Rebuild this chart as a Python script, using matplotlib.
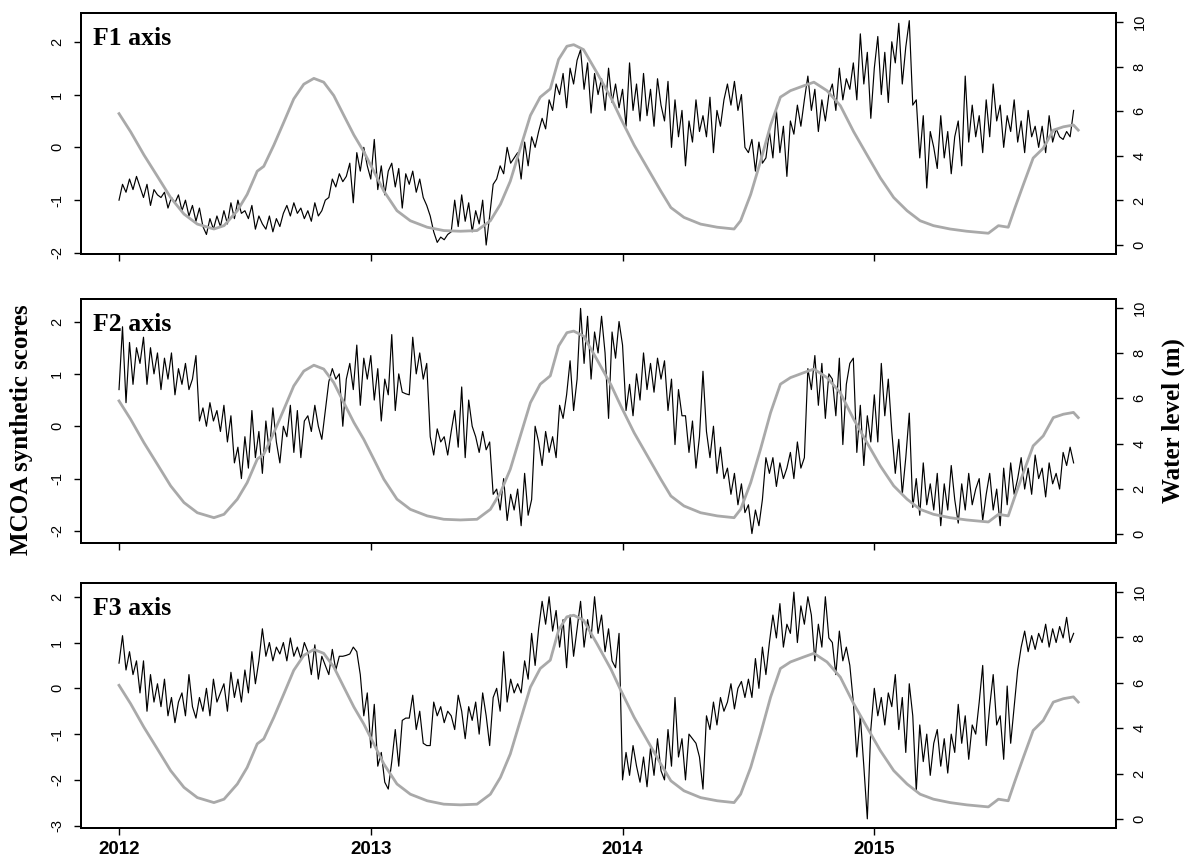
import numpy as np
import matplotlib
matplotlib.use("Agg")
import matplotlib.pyplot as plt

plt.rcParams['axes.unicode_minus'] = False

# time axis: years since 1 Jan 2012, six readings per month
samples_per_year = 72
year_labels = ['2012', '2013', '2014', '2015']

# MCOA synthetic scores, one row per month (Jan 2012 .. Oct 2015)
f1 = [
    # 2012
    -1.0, -0.7, -0.85, -0.6, -0.8, -0.55,
    -0.75, -0.95, -0.7, -1.1, -0.8, -0.9,
    -0.95, -0.85, -1.15, -0.95, -1.05, -0.9,
    -1.2, -1.0, -1.3, -1.1, -1.4, -1.15,
    -1.5, -1.65, -1.35, -1.55, -1.3, -1.5,
    -1.2, -1.45, -1.05, -1.35, -1.0, -1.25,
    -1.2, -1.35, -1.1, -1.55, -1.3, -1.45,
    -1.55, -1.3, -1.6, -1.35, -1.5, -1.25,
    -1.1, -1.3, -1.05, -1.25, -1.15, -1.35,
    -1.2, -1.4, -1.05, -1.3, -1.2, -1.0,
    -0.95, -0.6, -0.75, -0.5, -0.65, -0.55,
    -0.3, -1.05, -0.1, -0.45, 0.0, -0.35,
    # 2013
    -0.6, 0.15, -0.8, -0.35, -0.9, -0.45,
    -0.3, -0.75, -0.4, -1.15, -0.5, -0.7,
    -0.45, -0.85, -0.6, -0.95, -1.1, -1.3,
    -1.6, -1.8, -1.7, -1.75, -1.65, -1.6,
    -1.0, -1.5, -0.9, -1.4, -1.05, -1.6,
    -1.2, -1.45, -1.0, -1.85, -1.3, -0.7,
    -0.6, -0.35, -0.5, 0.0, -0.3, -0.2,
    -0.1, -0.6, 0.1, -0.35, 0.2, 0.0,
    0.3, 0.55, 0.35, 0.9, 0.7, 1.2,
    1.0, 1.4, 0.75, 1.5, 1.2, 1.65,
    1.85, 1.1, 1.6, 0.65, 1.4, 1.0,
    1.3, 0.7, 1.5, 0.85, 1.2, 0.75,
    # 2014
    1.1, 0.4, 1.6, 0.7, 1.2, 0.5,
    1.4, 0.6, 1.1, 0.4, 1.3, 0.8,
    0.5, 1.25, 0.0, 0.9, 0.2, 0.7,
    -0.35, 0.5, 0.1, 0.9, 0.3, 0.6,
    0.2, 0.95, -0.1, 0.7, 0.4, 0.9,
    1.2, 0.8, 1.25, 0.7, 1.0, 0.0,
    -0.1, 0.15, -0.45, 0.1, -0.3, -0.2,
    0.3, -0.2, 0.7, -0.1, 0.4, -0.55,
    0.5, 0.25, 0.8, 0.4, 0.9, 1.35,
    0.7, 1.1, 0.3, 0.9, 0.5, 1.0,
    1.2, 0.7, 1.5, 0.9, 1.3, 1.1,
    1.6, 0.9, 2.15, 1.2, 1.8, 0.55,
    # 2015
    1.5, 2.1, 1.0, 1.8, 0.85, 2.0,
    1.6, 2.35, 1.2, 1.9, 2.4, 0.8,
    0.9, -0.2, 0.6, -0.77, 0.3, 0.0,
    -0.4, 0.6, -0.2, 0.3, -0.5, 0.2,
    0.5, -0.35, 1.35, 0.1, 0.8, 0.2,
    0.6, -0.1, 0.9, 0.2, 1.2, 0.5,
    0.8, 0.0, 0.6, 0.3, 0.9, 0.1,
    0.5, -0.1, 0.7, 0.2, 0.4, 0.0,
    0.4, -0.1, 0.6, 0.1, 0.35, 0.2,
    0.15, 0.3, 0.2, 0.7,
]

f2 = [
    # 2012
    0.7, 1.9, 0.45, 1.6, 0.8, 1.5,
    1.2, 1.7, 0.8, 1.5, 1.0, 1.4,
    0.7, 1.3, 0.9, 1.4, 0.6, 1.1,
    0.8, 1.2, 0.7, 0.9, 1.35, 0.1,
    0.35, 0.0, 0.45, 0.1, 0.3, -0.1,
    0.4, -0.3, 0.2, -0.7, -0.4, -1.0,
    -0.2, -0.8, 0.3, -0.6, -0.1, -0.9,
    0.1, -0.5, 0.35, -0.3, -0.7, 0.0,
    -0.2, 0.4, -0.5, 0.3, -0.6, 0.1,
    0.2, -0.1, 0.4, 0.0, -0.25, 0.3,
    0.85, 1.1, 0.9, 1.0, 0.0, 0.9,
    1.2, 0.7, 1.55, 0.4, 1.3, 0.9,
    # 2013
    1.35, 0.5, 1.1, 0.1, 0.9, 0.6,
    1.75, 0.3, 1.0, 0.65, 0.62, 0.6,
    1.7, 1.0, 1.4, 0.9, 1.2, -0.2,
    -0.55, -0.05, -0.3, -0.2, -0.55, -0.1,
    0.3, -0.4, 0.75, -0.6, 0.5, 0.0,
    -0.2, -0.5, -0.1, -0.45, -0.3, -1.3,
    -1.2, -1.6, -1.0, -1.8, -1.3, -1.6,
    -1.2, -1.9, -0.9, -1.7, -1.4, 0.0,
    -0.3, -0.75, -0.1, -0.5, -0.2, -0.6,
    0.4, 0.15, 0.6, 1.25, 0.3, 0.9,
    2.25, 1.2, 2.1, 0.9, 1.8, 1.4,
    2.1, 1.4, 0.15, 1.8, 1.3, 2.0,
    # 2014
    1.55, 0.3, 0.8, 0.2, 1.0, 0.5,
    1.4, 0.7, 1.2, 0.65, 1.3, 0.9,
    1.25, 0.3, 0.9, -0.35, 0.7, 0.2,
    0.2, -0.5, 0.1, -0.8, -0.2, 1.05,
    -0.1, -0.6, 0.0, -0.9, -0.4, -1.0,
    -0.8, -1.3, -0.9, -1.5, -1.1, -1.65,
    -1.5, -2.05, -1.6, -1.9, -1.4, -0.6,
    -0.9, -0.6, -1.15, -0.7, -1.0, -0.8,
    -0.5, -1.0, -0.3, -0.8, -0.6, 1.1,
    0.7, 1.35, 0.4, 1.2, 0.15, 1.0,
    0.9, 0.2, 1.3, -0.35, 0.8, 1.2,
    1.3, -0.5, 0.4, -0.75, 0.2, -0.3,
    # 2015
    0.6, -0.3, 1.2, 0.2, 0.9, -0.1,
    -0.9, -0.25, -1.3, -0.6, 0.25, -1.55,
    -1.0, -1.7, -0.7, -1.5, -1.1, -1.6,
    -0.9, -1.9, -1.1, -1.6, -0.75, -1.4,
    -1.85, -1.1, -1.6, -0.9, -1.5, -1.2,
    -1.0, -1.8, -1.3, -0.9, -1.6, -1.2,
    -1.9, -0.8, -1.5, -0.7, -1.3, -1.0,
    -0.6, -1.2, -0.8, -1.3, -0.55, -1.0,
    -0.8, -1.35, -0.7, -1.1, -0.9, -1.2,
    -0.5, -0.75, -0.4, -0.7,
]

f3 = [
    # 2012
    0.55, 1.15, 0.4, 0.8, 0.3, 0.6,
    -0.1, 0.6, -0.5, 0.3, -0.3, 0.1,
    -0.4, 0.2, -0.6, -0.2, -0.75, -0.3,
    -0.1, -0.6, 0.3, -0.4, -0.65, -0.2,
    -0.5, 0.0, -0.6, 0.2, -0.3, -0.1,
    0.1, -0.5, 0.35, -0.2, 0.2, -0.3,
    0.4, -0.1, 0.8, 0.1, 0.6, 1.3,
    0.7, 1.0, 0.6, 0.9, 0.75, 1.0,
    0.6, 1.1, 0.7, 0.9, 0.65, 1.0,
    0.8, 0.3, 0.95, 0.2, 0.7, 0.5,
    0.3, 0.85, 0.4, 0.7, 0.7, 0.72,
    0.75, 0.9, 0.8, 0.3, -0.6, -0.1,
    # 2013
    -1.3, -0.35, -1.7, -1.4, -2.05, -2.2,
    -1.6, -0.9, -1.7, -0.7, -0.65, -0.65,
    -0.15, -0.9, -0.5, -1.2, -1.25, -1.25,
    -0.3, -0.6, -0.4, -0.75, -0.5, -0.6,
    -0.9, -0.15, -0.5, -1.1, -0.4, -0.7,
    -0.3, -1.0, -0.1, -0.6, -1.25, -0.2,
    0.0, -0.5, 0.8, -0.3, 0.2, -0.1,
    0.1, -0.1, 0.6, 0.2, 1.2, 0.5,
    1.3, 1.9, 1.4, 2.0, 1.25, 1.7,
    0.9, 1.5, 0.45, 1.6, 0.7, 1.3,
    1.9, 0.9, 1.5, 1.1, 2.0, 1.2,
    1.6, 0.8, 1.3, 0.6, 0.45, 1.2,
    # 2014
    -2.0, -1.4, -1.9, -1.25, -1.7, -2.05,
    -1.5, -2.15, -1.3, -1.9, -1.1, -1.8,
    -2.0, -0.9, -1.7, -0.2, -1.5, -1.1,
    -2.0, -1.0, -1.1, -1.2, -1.5, -2.2,
    -0.6, -0.9, -0.3, -0.8, -0.2, -0.5,
    -0.3, 0.1, -0.45, 0.0, 0.15, -0.2,
    0.2, -0.2, 0.65, 0.0, 0.9, 0.3,
    1.0, 1.6, 1.1, 1.85, 0.9, 1.4,
    1.2, 2.1, 1.0, 1.8, 1.4, 2.0,
    1.6, 0.6, 1.4, 0.9, 2.0, 1.1,
    1.0, 0.3, 1.25, 0.6, 0.9, 0.5,
    -0.3, -1.5, -0.6, -1.7, -2.85, -0.9,
    # 2015
    0.0, -0.6, -0.2, -0.8, -0.1, -0.4,
    0.3, -0.9, -0.2, -1.4, 0.1, -0.6,
    -2.25, -0.8, -1.6, -1.0, -1.9, -1.2,
    -0.9, -1.7, -1.1, -1.85, -1.0, -1.4,
    -0.35, -1.2, -0.6, -1.55, -0.8, -1.0,
    -0.3, 0.5, -1.25, -0.4, 0.3, -0.8,
    -0.6, -1.55, 0.05, -1.2, -0.4, 0.4,
    0.9, 1.25, 0.8, 1.15, 0.85, 1.2,
    1.0, 1.4, 0.9, 1.3, 1.0, 1.35,
    1.1, 1.55, 1.0, 1.2,
]

# water level (m), years since 1 Jan 2012
wl_t = [0.0, 0.046, 0.099, 0.152, 0.205, 0.258, 0.311, 0.377, 0.417, 0.47,
        0.509, 0.549, 0.575, 0.615, 0.655, 0.694, 0.734, 0.774, 0.813, 0.853,
        0.893, 0.933, 0.972, 1.012, 1.052, 1.104, 1.157, 1.224, 1.29, 1.356,
        1.422, 1.475, 1.515, 1.554, 1.594, 1.634, 1.673, 1.713, 1.746, 1.779,
        1.806, 1.845, 1.898, 1.954, 1.993, 2.046, 2.099, 2.152, 2.192, 2.244,
        2.31, 2.376, 2.443, 2.469, 2.509, 2.548, 2.588, 2.627, 2.667, 2.72,
        2.76, 2.812, 2.865, 2.918, 2.971, 3.024, 3.077, 3.13, 3.182, 3.235,
        3.301, 3.367, 3.453, 3.493, 3.532, 3.559, 3.592, 3.631, 3.671, 3.711,
        3.751, 3.791, 3.81]
wl_m = [5.89, 5.08, 4.04, 3.09, 2.13, 1.39, 0.94, 0.72, 0.87, 1.54,
        2.27, 3.31, 3.53, 4.48, 5.52, 6.55, 7.21, 7.47, 7.3, 6.7,
        5.81, 4.93, 4.19, 3.31, 2.42, 1.54, 1.09, 0.80, 0.65, 0.62,
        0.65, 1.09, 1.83, 2.86, 4.34, 5.81, 6.63, 7.0, 8.32, 8.91,
        8.98, 8.76, 7.73, 6.6, 5.67, 4.48, 3.45, 2.42, 1.68, 1.24,
        0.94, 0.80, 0.72, 1.09, 2.27, 3.75, 5.37, 6.63, 6.92, 7.14,
        7.3, 6.92, 6.25, 5.08, 4.04, 3.01, 2.13, 1.54, 1.09, 0.87,
        0.72, 0.62, 0.53, 0.87, 0.80, 1.68, 2.71, 3.9, 4.34, 5.15,
        5.3, 5.38, 5.15]

panels = [
    ("F1 axis", f1, (-2.02, 2.545), [-2, -1, 0, 1, 2]),
    ("F2 axis", f2, (-2.23, 2.43), [-2, -1, 0, 1, 2]),
    ("F3 axis", f3, (-3.05, 2.30), [-3, -2, -1, 0, 1, 2]),
]

W, H = 1186, 865
fig = plt.figure(figsize=(W / 100, H / 100), dpi=100)

left, right = 81, 1116
boxes = [(13, 254), (299, 543), (583, 828)]

sans = 'Liberation Sans'
serif = 'Liberation Serif'

for i, (name, vals, ylim, yticks) in enumerate(panels):
    top, bot = boxes[i]
    ax = fig.add_axes([left / W, 1 - bot / H, (right - left) / W, (bot - top) / H])
    x = np.arange(len(vals)) / samples_per_year
    ax.plot(x, vals, color='black', lw=0.85)
    ax.set_xlim(-0.151, 3.96)
    ax.set_ylim(*ylim)
    ax.set_yticks(yticks)
    ax.set_yticklabels([str(v) for v in yticks], rotation=90, va='center',
                       family=sans, fontsize=10.5)
    ax.set_xticks(range(len(year_labels)))
    if i == len(panels) - 1:
        ax.set_xticklabels(year_labels, family=sans, fontweight='bold', fontsize=13.5)
    else:
        ax.set_xticklabels([])
    ax.tick_params(direction='out', length=5, width=1.0, pad=7)
    ax.tick_params(axis='x', pad=4)
    for s in ax.spines.values():
        s.set_linewidth(1.4)
    ax.text(12 / (right - left), 1 - 32 / (bot - top), name, transform=ax.transAxes,
            ha='left', va='baseline', family=serif, fontweight='bold', fontsize=18.5)

    ax2 = ax.twinx()
    ax2.plot(wl_t, wl_m, color='#a9a9a9', lw=2.0)
    ax2.set_ylim(-0.4, 10.4)
    ax2.set_yticks(range(0, 11, 2))
    ax2.set_yticklabels([str(v) for v in range(0, 11, 2)], rotation=90, va='center',
                        family=sans, fontsize=10.5)
    ax2.tick_params(direction='out', length=5, width=1.0, pad=7)
    for s in ax2.spines.values():
        s.set_linewidth(1.4)

fig.text(22 / W, 1 - 430 / H, 'MCOA synthetic scores', rotation=90, ha='center',
         va='center', family=serif, fontweight='bold', fontsize=18)
fig.text(1173 / W, 1 - 421 / H, 'Water level (m)', rotation=90, ha='center',
         va='center', family=serif, fontweight='bold', fontsize=18)

fig.savefig('out.png', dpi=100)
